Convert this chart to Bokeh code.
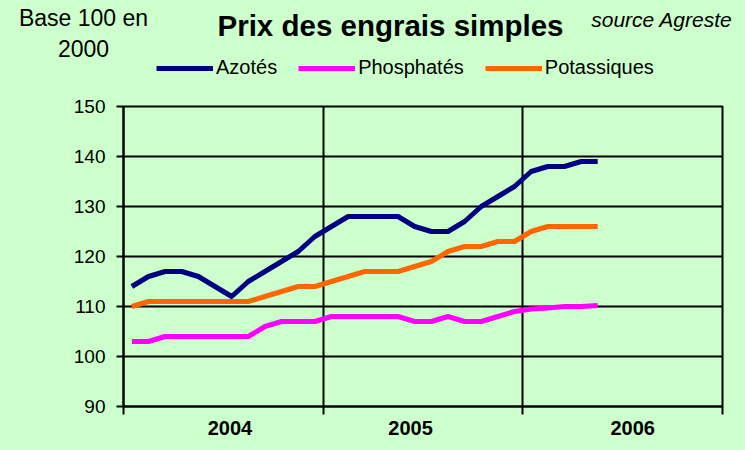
from bokeh.plotting import figure
from bokeh.models import Range1d, FixedTicker, Legend, LegendItem
from bokeh.layouts import column
from bokeh.core.properties import value
from bokeh.embed import file_html
from bokeh.resources import INLINE

# ---- data -------------------------------------------------------------
months = ["2004-01", "2004-02", "2004-03", "2004-04", "2004-05", "2004-06",
          "2004-07", "2004-08", "2004-09", "2004-10", "2004-11", "2004-12",
          "2005-01", "2005-02", "2005-03", "2005-04", "2005-05", "2005-06",
          "2005-07", "2005-08", "2005-09", "2005-10", "2005-11", "2005-12",
          "2006-01", "2006-02", "2006-03", "2006-04", "2006-05"]
azotes = [114, 116, 117, 117, 116, 114, 112, 115, 117, 119, 121, 124,
          126, 128, 128, 128, 128, 126, 125, 125, 127, 130, 132, 134,
          137, 138, 138, 139, 139]
phosphates = [103, 103, 104, 104, 104, 104, 104, 104, 106, 107, 107, 107,
              108, 108, 108, 108, 108, 107, 107, 108, 107, 107, 108, 109,
              109.5, 109.7, 110, 110, 110.2]
potassiques = [110, 111, 111, 111, 111, 111, 111, 111, 112, 113, 114, 114,
               115, 116, 117, 117, 117, 118, 119, 121, 122, 122, 123, 123,
               125, 126, 126, 126, 126]
years = ["2004", "2005", "2006"]
y_ticks = [90, 100, 110, 120, 130, 140, 150]
series_names = ["Azotés", "Phosphatés", "Potassiques"]
series_colors = ["#000080", "#FF00FF", "#FF6600"]
title_text = "Prix des engrais simples"
unit_lines = ["Base 100 en", "2000"]
source_text = "source Agreste"

# month index (0 = Jan 2004)
x = [(int(m[:4]) - int(years[0])) * 12 + int(m[5:]) - 1 for m in months]
series = [azotes, phosphates, potassiques]

BG = "#CCFFCC"
FONT = "Liberation Sans"
W = 745
HDR_H = 82


def no_align(fig):
    if "frame_align" in fig.properties():
        fig.frame_align = False


# ---- header (title texts + legend) ------------------------------------
hdr = figure(width=W, height=HDR_H, output_backend="svg", toolbar_location=None,
             x_range=Range1d(0, W), y_range=Range1d(HDR_H, 0),
             x_axis_type=None, y_axis_type=None,
             min_border=0, min_border_left=0, min_border_right=0,
             min_border_top=0, min_border_bottom=0,
             background_fill_color=BG, border_fill_color=BG,
             outline_line_color=None)
hdr.grid.visible = False
no_align(hdr)

hdr.text(x=[83, 83], y=[17.8, 47.8], text=unit_lines,
         text_font=value(FONT), text_font_size="23px", text_color="black",
         text_align="center", text_baseline="alphabetic")
hdr.text(x=[390], y=[24.6], text=[title_text],
         text_font=value(FONT), text_font_size="29.5px", text_font_style="bold",
         text_color="black", text_align="center", text_baseline="alphabetic")
hdr.text(x=[732], y=[18.8], text=[source_text],
         text_font=value(FONT), text_font_size="21px", text_font_style="italic",
         text_color="black", text_align="right", text_baseline="alphabetic")

# legend keys: hidden copies of the series (legend only)
leg_r = [hdr.line(x, vals, line_width=5, line_color=c, visible=False)
         for vals, c in zip(series, series_colors)]
legend = Legend(items=[LegendItem(label=n, renderers=[r]) for n, r in zip(series_names, leg_r)],
                orientation="horizontal", location=(156, 3),
                border_line_color=None, background_fill_alpha=0,
                inactive_fill_alpha=0,
                padding=0, margin=0, spacing=21,
                glyph_width=57, glyph_height=20, label_height=20,
                label_standoff=3, label_text_font=FONT,
                label_text_font_size="20px", label_text_color="black")
hdr.add_layout(legend)

# ---- main chart -------------------------------------------------------
p = figure(width=W, height=450 - HDR_H, output_backend="svg", toolbar_location=None,
           x_range=Range1d(-0.5, 35.5), y_range=Range1d(90, 150),
           min_border_left=123, min_border_right=23,
           min_border_top=106 - HDR_H, min_border_bottom=44,
           background_fill_color=BG, border_fill_color=BG,
           outline_line_color="black", outline_line_width=2)
no_align(p)

p.xgrid.ticker = FixedTicker(ticks=[11.5, 23.5])
p.xgrid.grid_line_color = "black"
p.xgrid.grid_line_width = 2
p.ygrid.ticker = FixedTicker(ticks=y_ticks)
p.ygrid.grid_line_color = "black"
p.ygrid.grid_line_width = 2

yax = p.yaxis[0]
yax.ticker = FixedTicker(ticks=y_ticks)
yax.axis_line_color = "black"
yax.axis_line_width = 2
yax.major_tick_line_color = "black"
yax.major_tick_line_width = 2
yax.major_tick_out = 7
yax.major_tick_in = 0
yax.minor_tick_line_color = None
yax.major_label_text_font = FONT
yax.major_label_text_font_size = "19px"
yax.major_label_text_color = "black"
yax.major_label_standoff = 11

label_pos = [5.9, 16.75, 30.1]
xax = p.xaxis[0]
xax.ticker = FixedTicker(ticks=label_pos, minor_ticks=[-0.5, 11.5, 23.5, 35.5])
xax.major_label_overrides = {v: t for v, t in zip(label_pos, years)}
xax.axis_line_color = "black"
xax.axis_line_width = 2
xax.major_tick_line_color = None
xax.major_tick_out = 0
xax.major_tick_in = 0
xax.minor_tick_line_color = "black"
xax.minor_tick_line_width = 2
xax.minor_tick_out = 8
xax.minor_tick_in = 0
xax.major_label_text_font = FONT
xax.major_label_text_font_size = "20px"
xax.major_label_text_font_style = "bold"
xax.major_label_text_color = "black"
xax.major_label_standoff = 6

for vals, col in zip(series, series_colors):
    p.line(x, vals, line_width=5, line_color=col, line_join="round")

layout = column(hdr, p, spacing=0, styles={"background-color": BG})

open("out.html", "w").write(file_html(layout, INLINE))
